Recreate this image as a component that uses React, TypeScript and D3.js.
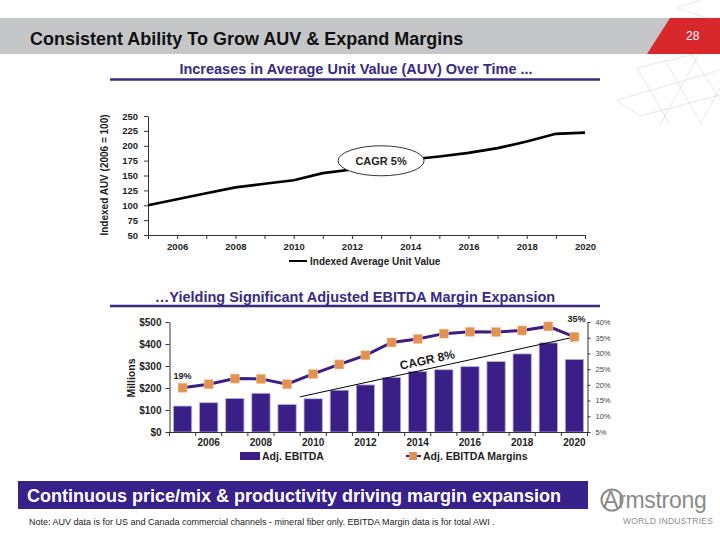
import React from 'react';
import * as d3 from 'd3';

type AnySelection = d3.Selection<any, unknown, null, undefined>;

// shared x categories
const years = [2005, 2006, 2007, 2008, 2009, 2010, 2011, 2012, 2013, 2014, 2015, 2016, 2017, 2018, 2019, 2020];
const yearLabels = ['2006', '2008', '2010', '2012', '2014', '2016', '2018', '2020'];

// top chart: indexed AUV (2006 = 100)
const auvIndex = [100, 110, 120, 130, 136, 142, 154, 160, 168, 177, 182, 188, 196, 207, 220, 222];
const auvTicks = [50, 75, 100, 125, 150, 175, 200, 225, 250];

// bottom chart: adj. EBITDA ($M) and margins (%)
const ebitda = [118, 133, 152, 176, 125, 151, 190, 214, 248, 275, 283, 297, 320, 355, 405, 330];
const ebitdaMargins = [19.1, 20.2, 22, 21.9, 20.2, 23.5, 26.5, 29.4, 33.5, 34.6, 36.3, 36.9, 36.8, 37.3, 38.6, 35.3];
const dollarTicks = [0, 100, 200, 300, 400, 500];
const marginTicks = [5, 10, 15, 20, 25, 30, 35, 40];

const FONT = '"Liberation Sans", Arial, Helvetica, sans-serif';
const PURPLE = '#3a1f86';
const ORANGE = '#e3914f';
const INK = '#1e1e1e';

const styleAxis = (g: AnySelection, size: number, weight: string, color: string) => {
  g.attr('font-family', FONT);
  g.selectAll('text')
    .attr('font-size', size)
    .attr('font-weight', weight)
    .attr('fill', color);
  g.selectAll('line').attr('stroke', '#333');
  g.select('.domain').attr('stroke', '#333');
};

const drawAuv = (g: AnySelection) => {
  const x = d3.scaleLinear().domain([2005, 2020]).range([148, 585]);
  const y = d3.scaleLinear().domain([50, 250]).range([235, 116]);

  g.select('.x-axis')
    .attr('transform', `translate(0, ${y(50)})`)
    .call(d3.axisBottom(x)
      .tickValues(years)
      .tickSize(4)
      .tickSizeOuter(0)
      .tickPadding(4)
      .tickFormat((d: any) => yearLabels.includes(String(d)) ? String(d) : '') as any)
    .call((a: AnySelection) => styleAxis(a, 9.5, 'bold', INK));

  g.select('.y-axis')
    .attr('transform', `translate(${x(2005)}, 0)`)
    .call(d3.axisLeft(y).tickValues(auvTicks).tickSize(4).tickSizeOuter(0).tickPadding(6) as any)
    .call((a: AnySelection) => styleAxis(a, 9.5, 'bold', INK));

  const line = d3.line<number>()
    .x((_, i) => x(years[i]))
    .y(d => y(d));

  g.select('.auv-line')
    .attr('d', line(auvIndex))
    .attr('fill', 'none')
    .attr('stroke', '#000')
    .attr('stroke-width', 2.6);

  const i13 = years.indexOf(2013);
  g.select('.cagr-bubble')
    .attr('transform', `translate(${x(2013)}, ${y(auvIndex[i13]) - 4})`);
};

const drawEbitda = (g: AnySelection) => {
  const x = d3.scaleBand<string>()
    .domain(years.map(String))
    .range([169.5, 587.5])
    .paddingInner(0.3)
    .paddingOuter(0.15);
  const money = d3.scaleLinear().domain([0, 500]).range([432, 322]);
  const pct = d3.scaleLinear().domain([5, 40]).range([432, 322]);
  const cx = (yr: number) => (x(String(yr)) as number) + x.bandwidth() / 2;

  g.select('.bars')
    .selectAll('.bar')
    .data(ebitda)
    .join('rect')
      .attr('class', 'bar')
      .attr('x', (_: any, i: number) => x(String(years[i])) as number)
      .attr('y', (d: number) => money(d))
      .attr('width', x.bandwidth())
      .attr('height', (d: number) => money(0) - money(d))
      .attr('fill', PURPLE)
      .attr('stroke', '#b9b0dc')
      .attr('stroke-width', 0.8);

  // x axis: line, boundary ticks, centered labels
  const ax = g.select('.x-axis');
  ax.attr('transform', `translate(0, ${money(0)})`)
    .call(d3.axisBottom(x)
      .tickSize(0)
      .tickSizeOuter(0)
      .tickPadding(7)
      .tickFormat((d: string) => yearLabels.includes(d) ? d : '') as any)
    .call((a: AnySelection) => styleAxis(a, 10, 'bold', INK));
  ax.selectAll('.boundary')
    .data([...years, 2021])
    .join('line')
      .attr('class', 'boundary')
      .attr('x1', (_: any, i: number) => 169.5 + i * x.step())
      .attr('x2', (_: any, i: number) => 169.5 + i * x.step())
      .attr('y1', 0)
      .attr('y2', 4)
      .attr('stroke', '#333');

  g.select('.y-axis')
    .attr('transform', 'translate(169.5, 0)')
    .call(d3.axisLeft(money).tickValues(dollarTicks).tickSize(4).tickSizeOuter(0).tickPadding(4)
      .tickFormat((d: any) => `$${d}`) as any)
    .call((a: AnySelection) => styleAxis(a, 10, 'bold', INK));

  g.select('.y2-axis')
    .attr('transform', 'translate(587.5, 0)')
    .call(d3.axisRight(pct).tickValues(marginTicks).tickSize(3).tickSizeOuter(0).tickPadding(5)
      .tickFormat((d: any) => `${d}%`) as any)
    .call((a: AnySelection) => styleAxis(a, 7.5, 'normal', '#444'));

  const line = d3.line<number>()
    .x((_, i) => cx(years[i]))
    .y(d => pct(d));

  g.select('.margin-line')
    .attr('d', line(ebitdaMargins))
    .attr('fill', 'none')
    .attr('stroke', PURPLE)
    .attr('stroke-width', 3);

  g.select('.markers')
    .selectAll('.marker')
    .data(ebitdaMargins)
    .join('rect')
      .attr('class', 'marker')
      .attr('x', (_: any, i: number) => cx(years[i]) - 4.5)
      .attr('y', (d: number) => pct(d) - 4.5)
      .attr('width', 9)
      .attr('height', 9)
      .attr('fill', ORANGE)
      .attr('stroke', '#f3c49a')
      .attr('stroke-width', 0.6);

  const first = ebitdaMargins[0];
  const last = ebitdaMargins[ebitdaMargins.length - 1];
  g.select('.first-label')
    .attr('x', cx(2005))
    .attr('y', pct(first) - 9)
    .text(`${Math.round(first)}%`);
  g.select('.last-label')
    .attr('x', cx(2020) + 2)
    .attr('y', 322)
    .text(`${Math.round(last)}%`);

  // CAGR arrow
  const x0 = (x('2010') as number) - (x.step() - x.bandwidth()) / 2;
  const y0 = money(160);
  const x1 = cx(2020) + 4;
  const y1 = pct(35.5);
  g.select('.cagr-arrow')
    .attr('x1', x0)
    .attr('y1', y0)
    .attr('x2', x1)
    .attr('y2', y1);
  const angle = Math.atan2(y1 - y0, x1 - x0) * 180 / Math.PI;
  const t = 0.46;
  g.select('.cagr-text')
    .attr('transform', `translate(${x0 + (x1 - x0) * t}, ${y0 + (y1 - y0) * t - 5}) rotate(${angle})`);
};

const App: React.FC = () => {
  const svgRef = React.useRef<SVGSVGElement>(null);

  React.useEffect(() => {
    const svg = d3.select(svgRef.current);
    drawAuv(svg.select('.auv-chart') as AnySelection);
    drawEbitda(svg.select('.ebitda-chart') as AnySelection);
  }, []);

  return (
    <svg
      ref={svgRef}
      width={720}
      height={540}
      style={{ position: 'absolute', left: 0, top: 0, background: '#fff' }}
      fontFamily={FONT}
    >
      <defs>
        <marker id="arrow" viewBox="0 0 10 10" refX="9" refY="5" markerWidth="9" markerHeight="9" orient="auto">
          <path d="M0,1 L9,5 L0,9" fill="none" stroke="#000" strokeWidth={1.4} />
        </marker>
      </defs>

      {/* decorative lattice */}
      <g stroke="#e0e0e0" strokeWidth={0.8} fill="none">
        <path d="M700,0 L677,8 L720,22" />
        <path d="M690,0 L720,-5" />
        <path d="M637,68 L720,48" />
        <path d="M617,100 L720,70" />
        <path d="M640,116 L720,95" />
        <path d="M637,68 L670,125" />
        <path d="M665,60 L700,122" />
        <path d="M690,52 L720,100" />
        <path d="M617,100 L640,116" />
        <path d="M660,125 L720,16" />
        <path d="M700,125 L720,88" />
      </g>

      {/* header */}
      <rect x={0} y={18} width={720} height={36} fill="#c5c6c8" />
      <path d="M670,18 L720,18 L720,54 L647,54 Z" fill="#d9282c" />
      <text x={686} y={40} fill="#fff" fontSize={12} fontFamily={FONT}>28</text>
      <text x={30} y={44.5} fill="#111" fontSize={18} fontWeight="bold">
        Consistent Ability To Grow AUV &amp; Expand Margins
      </text>

      {/* section titles */}
      <text x={356} y={74} textAnchor="middle" fill="#3a2a82" fontSize={14.5} fontWeight="bold">
        Increases in Average Unit Value (AUV) Over Time ...
      </text>
      <line x1={110} x2={600} y1={79.5} y2={79.5} stroke="#3a2a82" strokeWidth={2.5} />
      <text x={355} y={302} textAnchor="middle" fill="#3a2a82" fontSize={14.5} fontWeight="bold">
        …Yielding Significant Adjusted EBITDA Margin Expansion
      </text>
      <line x1={110} x2={600} y1={306} y2={306} stroke="#3a2a82" strokeWidth={2.5} />

      {/* AUV chart */}
      <g className="auv-chart">
        <g className="x-axis" />
        <g className="y-axis" />
        <path className="auv-line" />
        <g className="cagr-bubble">
          <ellipse rx={43} ry={15} fill="#fff" stroke="#333" strokeWidth={1} />
          <text y={4} textAnchor="middle" fontSize={11} fontWeight="bold" fill={INK}>CAGR 5%</text>
        </g>
        <text transform="translate(108, 175) rotate(-90)" textAnchor="middle" fontSize={10} fontWeight="bold" fill={INK}>
          Indexed AUV (2006 = 100)
        </text>
        <line x1={289} x2={307} y1={261} y2={261} stroke="#000" strokeWidth={2} />
        <text x={310} y={265} fontSize={10} fontWeight="bold" fill={INK}>Indexed Average Unit Value</text>
      </g>

      {/* EBITDA chart */}
      <g className="ebitda-chart">
        <g className="bars" />
        <g className="x-axis" />
        <g className="y-axis" />
        <g className="y2-axis" />
        <line className="cagr-arrow" stroke="#000" strokeWidth={1} markerEnd="url(#arrow)" />
        <text className="cagr-text" textAnchor="middle" fontSize={12} fontWeight="bold" fill={INK}>CAGR 8%</text>
        <path className="margin-line" />
        <g className="markers" />
        <text className="first-label" textAnchor="middle" fontSize={9} fontWeight="bold" fill={INK} />
        <text className="last-label" textAnchor="middle" fontSize={9} fontWeight="bold" fill={INK} />
        <text transform="translate(135, 378) rotate(-90)" textAnchor="middle" fontSize={10.5} fontWeight="bold" fill={INK}>
          Millions
        </text>
        <rect x={240} y={452} width={20} height={8} fill={PURPLE} />
        <text x={262} y={460} fontSize={10.5} fontWeight="bold" fill={INK}>Adj. EBITDA</text>
        <line x1={406} x2={421} y1={456} y2={456} stroke={PURPLE} strokeWidth={2} />
        <rect x={409} y={452} width={8} height={8} fill={ORANGE} />
        <text x={423} y={460} fontSize={10.5} fontWeight="bold" fill={INK}>Adj. EBITDA Margins</text>
      </g>

      {/* footer */}
      <rect x={18} y={481} width={570} height={28} fill="#37218a" />
      <text x={27} y={501.5} fill="#fff" fontSize={18} fontWeight="bold">
        Continuous price/mix &amp; productivity driving margin expansion
      </text>
      <text x={29} y={525} fill="#222" fontSize={9}>
        Note: AUV data is for US and Canada commercial channels - mineral fiber only. EBITDA Margin data is for total AWI .
      </text>
      <g fill="#8b8b8b">
        <circle cx={612} cy={500} r={10.5} fill="none" stroke="#8b8b8b" strokeWidth={2} />
        <text x={603} y={508} fontSize={23} letterSpacing={-0.3}>Armstrong</text>
        <text x={623} y={524} fontSize={8.5} letterSpacing={0.3}>WORLD INDUSTRIES</text>
      </g>
    </svg>
  );
};

export default App;
